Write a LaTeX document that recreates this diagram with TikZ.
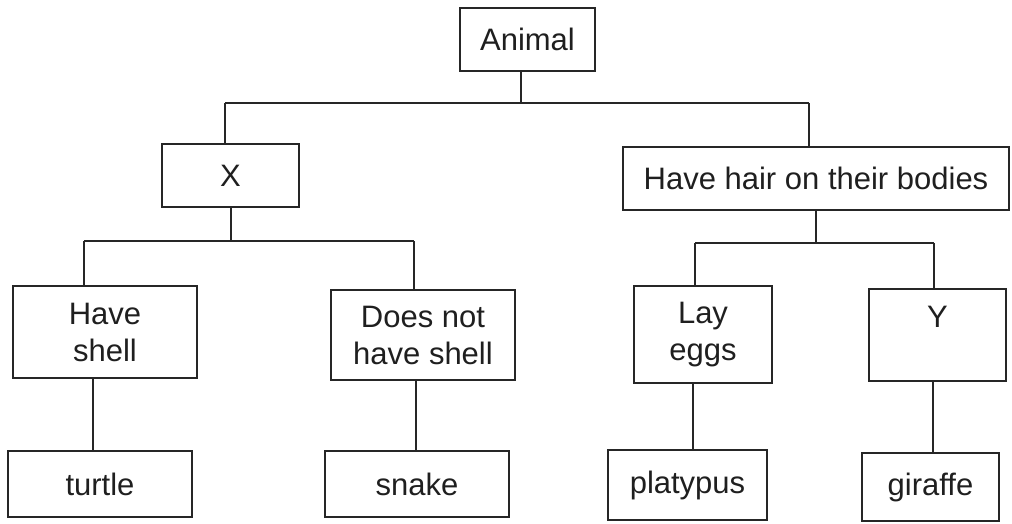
\documentclass[tikz,border=0pt]{standalone}
\usepackage{fontspec}
\setmainfont{Liberation Sans}
\begin{document}
\begin{tikzpicture}[x=1pt,y=-1pt,
  box/.style={draw=black!85, line width=1.1pt, inner sep=0pt, align=center,
    font=\fontsize{31}{37}\selectfont, text=black!88},
  link/.style={draw=black!85, line width=1.1pt}]
\useasboundingbox (0,0) rectangle (1012,524);
\node[box, minimum width=135pt, minimum height=63pt] (animal) at (527.5,39.5) {Animal};
\node[box, minimum width=137pt, minimum height=63pt] (X) at (230.5,175.5) {X};
\node[box, minimum width=386pt, minimum height=63pt] (hair) at (816,178.5) {Have hair on their bodies};
\node[box, minimum width=184pt, minimum height=92pt] (shell) at (105,332) {Have\\shell};
\node[box, minimum width=184pt, minimum height=90pt] (noshell) at (423,335) {Does not\\have shell};
\node[box, minimum width=138pt, minimum height=97pt] (eggs) at (703,334.5) {Lay\\eggs};
\node[box, minimum width=137pt, minimum height=92pt] (Y) at (937.5,335) {Y\\\mbox{}};
\node[box, minimum width=184pt, minimum height=66pt] (turtle) at (100,484) {turtle};
\node[box, minimum width=184pt, minimum height=66pt] (snake) at (417,484) {snake};
\node[box, minimum width=159pt, minimum height=70pt] (platypus) at (687.5,485) {platypus};
\node[box, minimum width=137pt, minimum height=68pt] (giraffe) at (930.5,487) {giraffe};
% level 1 bus
\coordinate (a1) at (521,103);
\coordinate (a1L) at (225,103);
\coordinate (a1R) at (809,103);
\draw[link] (animal.south -| a1) -- (a1);
\draw[link] (a1L) -- (a1R);
\draw[link] (a1L) -- (X.north -| a1L);
\draw[link] (a1R) -- (hair.north -| a1R);
% level 2 bus left
\coordinate (x1) at (231,241);
\coordinate (x1L) at (84,241);
\coordinate (x1R) at (414,241);
\draw[link] (X.south -| x1) -- (x1);
\draw[link] (x1L) -- (x1R);
\draw[link] (x1L) -- (shell.north -| x1L);
\draw[link] (x1R) -- (noshell.north -| x1R);
% level 2 bus right
\coordinate (h1) at (816,243);
\coordinate (h1L) at (695,243);
\coordinate (h1R) at (934,243);
\draw[link] (hair.south -| h1) -- (h1);
\draw[link] (h1L) -- (h1R);
\draw[link] (h1L) -- (eggs.north -| h1L);
\draw[link] (h1R) -- (Y.north -| h1R);
% level 3 stems
\coordinate (s1) at (93,0);
\coordinate (s2) at (416,0);
\coordinate (s3) at (693,0);
\coordinate (s4) at (933,0);
\draw[link] (shell.south -| s1) -- (turtle.north -| s1);
\draw[link] (noshell.south -| s2) -- (snake.north -| s2);
\draw[link] (eggs.south -| s3) -- (platypus.north -| s3);
\draw[link] (Y.south -| s4) -- (giraffe.north -| s4);
\end{tikzpicture}
\end{document}
